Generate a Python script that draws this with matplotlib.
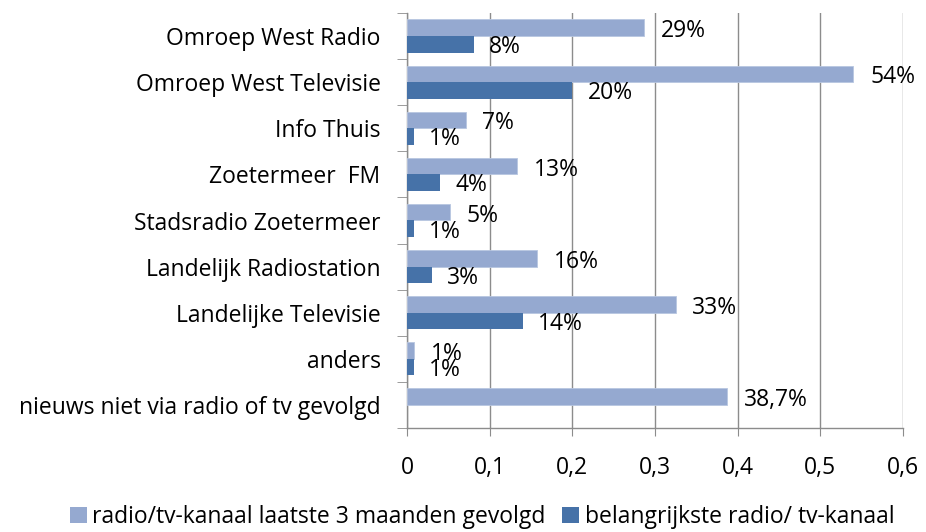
import matplotlib
matplotlib.use("Agg")
import matplotlib.pyplot as plt
import numpy as np
from matplotlib.patches import Patch

categories = ["Omroep West Radio", "Omroep West Televisie", "Info Thuis",
              "Zoetermeer  FM", "Stadsradio Zoetermeer", "Landelijk Radiostation",
              "Landelijke Televisie", "anders", "nieuws niet via radio of tv gevolgd"]
gevolgd = [0.287, 0.54, 0.071, 0.133, 0.052, 0.157, 0.325, 0.0085, 0.387]
gevolgd_labels = ["29%", "54%", "7%", "13%", "5%", "16%", "33%", "1%", "38,7%"]
belangrijkste = [0.081, 0.20, 0.0085, 0.04, 0.0085, 0.030, 0.140, 0.0085, 0.0]
belangrijkste_labels = ["8%", "20%", "1%", "4%", "1%", "3%", "14%", "1%", ""]
xticks = [0, 0.1, 0.2, 0.3, 0.4, 0.5, 0.6]
xtick_labels = ["0", "0,1", "0,2", "0,3", "0,4", "0,5", "0,6"]
series_names = ["radio/tv-kanaal laatste 3 maanden gevolgd", "belangrijkste radio/ tv-kanaal"]

plt.rcParams['font.family'] = ['Open Sans', 'DejaVu Sans']
light = "#95A9D0"
dark = "#4672A8"
grid_c = "#8c8c8c"
fs = 16.5

fig = plt.figure(figsize=(9.26, 5.32), dpi=100)
ax = fig.add_axes([407/926, 1-428/532, (903-407)/926, (428-13)/532])

n = len(categories)
y = np.arange(n)
h = 0.36
ax.barh(y - h/2, gevolgd, height=h, color=light, edgecolor="#b8c6e0", linewidth=0.6, zorder=3)
ax.barh(y + h/2, belangrijkste, height=h, color=dark, linewidth=0, zorder=3)

for i in range(n):
    ax.annotate(gevolgd_labels[i], (gevolgd[i], y[i] - h/2), xytext=(12, -2.5),
                textcoords="offset points", ha="left", va="center", fontsize=fs, zorder=4)
    if belangrijkste_labels[i]:
        ax.annotate(belangrijkste_labels[i], (belangrijkste[i], y[i] + h/2), xytext=(11, -2),
                    textcoords="offset points", ha="left", va="center", fontsize=fs, zorder=4)

ax.set_xlim(0, 0.6)
ax.set_ylim(n - 0.5, -0.5)
ax.set_xticks(xticks)
ax.set_xticklabels(xtick_labels, fontsize=fs)
ax.set_yticks(y)
ax.set_yticklabels(categories, fontsize=fs)
ax.set_yticks(np.arange(-0.5, n, 1), minor=True)
ax.tick_params(axis='y', which='major', length=0, pad=19)
ax.tick_params(axis='y', which='minor', length=7, color=grid_c, direction='out')
ax.tick_params(axis='x', which='major', length=6, color=grid_c, pad=14, direction='out')

ax.grid(axis='x', color=grid_c, linewidth=1.0, zorder=0)
for s in ['top', 'right']:
    ax.spines[s].set_visible(False)
for s in ['left', 'bottom']:
    ax.spines[s].set_color(grid_c)
    ax.spines[s].set_linewidth(1.0)

handles = [Patch(facecolor=light, edgecolor='none'), Patch(facecolor=dark, edgecolor='none')]
fig.legend(handles, series_names, loc='center', bbox_to_anchor=(482/926, 1-517/532), ncol=2,
           frameon=False, fontsize=fs, handlelength=0.75, handleheight=0.75,
           handletextpad=0.25, columnspacing=0.7, borderpad=0)

fig.savefig("out.png", dpi=100)
